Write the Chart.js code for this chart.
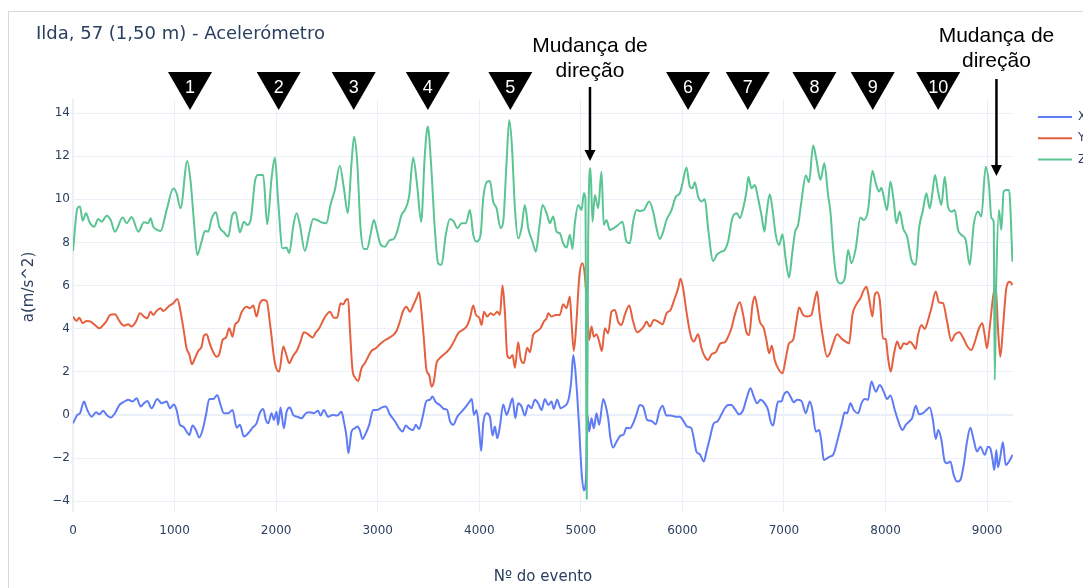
<!DOCTYPE html>
<html>
<head>
<meta charset="utf-8">
<title>Ilda, 57 (1,50 m) - Acelerómetro</title>
<script src="https://cdn.jsdelivr.net/npm/chart.js@4.4.1/dist/chart.umd.min.js"></script>
<style>
  html, body { margin: 0; padding: 0; background: #ffffff; overflow: hidden; }
  #frame { position: absolute; left: 8px; top: 11px; width: 1075px; height: 577px;
           border-top: 1px solid #d9d9d9; border-left: 1px solid #d9d9d9; }
  #wrap { position: absolute; left: 0; top: 0; width: 1083px; height: 588px; }
</style>
</head>
<body>
<div id="frame"></div>
<div id="wrap"><canvas id="chart" width="1083" height="588"></canvas></div>
<script>
// ---- texts ----
const chartTitle = 'Ilda, 57 (1,50 m) - Acelerómetro';
const xAxisTitle = 'Nº do evento';
const yAxisTitle = 'a(m/s^2)';
const seriesNames = ['X', 'Y', 'Z'];

// ---- axis ticks ----
const xTickValues = [0, 1000, 2000, 3000, 4000, 5000, 6000, 7000, 8000, 9000];
const yTickValues = [-4, -2, 0, 2, 4, 6, 8, 10, 12, 14];

// ---- step markers (event numbers) ----
const stepEvents = [1152, 2025, 2764, 3494, 4306, 6056, 6644, 7300, 7874, 8519];
const stepLabels = ['1', '2', '3', '4', '5', '6', '7', '8', '9', '10'];

// ---- direction-change notes ----
const turnEvents = [5090, 9092];
const turnLabel = ['Mudança de', 'direção'];

// ---- X acceleration ----
const eventsX = [
  0, 43, 69, 108, 141, 184, 226, 259, 298, 331,
  371, 413, 456, 495, 544, 587, 627, 666, 699, 731,
  774, 830, 872, 922, 954, 994, 1020, 1053, 1086, 1118,
  1145, 1177, 1210, 1243, 1276, 1309, 1342, 1381, 1420, 1453,
  1486, 1528, 1571, 1611, 1643, 1683, 1725, 1768, 1807,
  1840, 1873, 1899, 1922, 1955, 1978, 2004, 2020, 2043, 2076,
  2102, 2135, 2168, 2207, 2250, 2293, 2332, 2371, 2414, 2437,
  2470, 2512, 2555, 2601, 2644, 2667, 2693, 2712, 2742, 2775,
  2798, 2824, 2850, 2883, 2916, 2955, 2995, 3037, 3080, 3119,
  3168, 3211, 3244, 3277, 3309, 3349, 3375, 3408, 3441, 3480,
  3513, 3539, 3572, 3612, 3651, 3684,
  3711, 3744, 3783, 3826, 3868, 3901, 3927, 3947, 3973, 4000,
  4019, 4039, 4072, 4105, 4131, 4154, 4177, 4203, 4236, 4269,
  4295, 4328, 4354, 4383, 4416, 4449, 4482, 4514, 4547, 4580,
  4613, 4646, 4679, 4711, 4734, 4767, 4800, 4833, 4866, 4885,
  4905, 4925, 4944, 4964, 4984, 5007, 5030, 5049, 5066, 5082,
  5105, 5128, 5154, 5181, 5220, 5246, 5269, 5292, 5318, 5351,
  5390, 5423, 5449, 5482, 5515, 5548,
  5581, 5614, 5653, 5696, 5738, 5771, 5804, 5843, 5883, 5935,
  5975, 6014, 6047, 6089, 6112, 6138, 6171, 6211, 6237, 6270,
  6309, 6342, 6385, 6417, 6450, 6483, 6516, 6558, 6598, 6637,
  6670, 6703, 6736, 6768, 6811, 6844, 6867, 6893, 6919, 6942,
  6975, 6998, 7031, 7064, 7097, 7129, 7172, 7215, 7254, 7280,
  7313, 7346, 7369, 7392, 7424,
  7451, 7484, 7523, 7566, 7599, 7622, 7654, 7687, 7730, 7763,
  7795, 7828, 7861, 7904, 7943, 7982, 8015, 8048, 8091, 8133,
  8166, 8199, 8238, 8264, 8297, 8330, 8369, 8402, 8435, 8468,
  8494, 8520, 8550, 8583, 8606, 8638, 8671, 8704, 8737, 8770,
  8802, 8835, 8868, 8901, 8934, 8976, 9009, 9032, 9052, 9071,
  9091, 9107, 9130, 9156, 9183, 9216, 9250
];
const accX = [
  -0.39, 0, 0.08, 0.62, 0.23, -0.08, 0.12, 0.03, 0.19, 0,
  -0.12, 0.08, 0.46, 0.59, 0.7, 0.62, 0.77, 0.39, 0.54, 0.65,
  0.31, 0.74, 0.54, 0.62, 0.31, 0.49, 0.23, -0.46, -0.54, -0.77,
  -0.93, -0.49, -0.7, -1.05, -0.7, 0, 0.74, 0.74, 0.93, 0.46,
  0.08, 0.08, 0.23, -0.59, -0.46, -1.0, -0.85, -0.59, -0.39,
  0.1, 0.28, -0.23, -0.39, 0.08, -0.23, 0.15, -0.46, 0.34, -0.62,
  0.12, 0.34, 0, -0.08, -0.15, 0.08, 0.12, 0.08, 0.19, -0.03,
  0.23, -0.08, 0, -0.03, 0.15, -0.31, -1.0, -1.78, -0.77, -0.62,
  -0.54, -0.7, -1.11, -0.85, -0.46, 0.23, 0.23, 0.34, 0.39, 0.03,
  -0.28, -0.62, -0.77, -0.49, -0.62, -0.7, -0.46, -0.65, -0.12, 0.65,
  0.7, 0.85, 0.59, 0.46, 0.28, 0.23,
  -0.28, -0.46, -0.08, 0.15, 0.39, 0.59, 0.74, 0, 0.23, -0.77,
  -1.67, -0.39, 0.08, -0.08, -0.96, -0.54, -1.08, -0.54, 0.49, 0,
  0.31, 0.77, -0.15, 0.54, 0.39, -0.03, 0.46, 0.31, 0.7, 0.54,
  0.23, 0.74, 0.46, 0.62, 0.28, 0.7, 0.31, 0.39, 0.54, 0.85,
  1.55, 2.78, 2.16, 0.93, -0.62, -2.63, -3.5, -3.09, 0, -0.77,
  -0.15, -0.62, 0.08, -0.46, 0.74, 0.39, -0.15, -1.08, -1.51, -1.24,
  -0.96, -0.9, -0.59, -0.62, -0.39, 0.03,
  0.46, 0.39, -0.23, -0.28, -0.43, 0.15, 0.43, -0.03, -0.03, -0.08,
  -0.08, -0.31, -0.54, -0.62, -1.08, -1.7, -1.82, -2.16, -1.7, -1.08,
  -0.39, -0.31, 0.03, 0.31, 0.46, 0.46, 0.28, 0.03, 0.23, 0.85,
  1.24, 0.85, 0.54, 0.7, 0.54, 0.23, -0.28, -0.49, 0.15, 0.62,
  0.62, 0.93, 1.08, 0.85, 0.59, 0.7, 0.65, 0.08, 0.62, 0.23,
  -0.77, -0.7, -1.24, -2.09, -2.01,
  -1.93, -1.85, -1.24, -0.46, 0.12, 0.08, 0.54, 0.23, 0.08, 0.54,
  0.74, 0.7, 1.55, 1.08, 1.39, 1.08, 0.74, 0.9, 0.23, -0.39,
  -0.7, -0.46, -0.28, -0.12, 0.43, 0.03, 0.08, 0.23, 0.34, -0.28,
  -1.11, -0.7, -1.16, -2.16, -2.24, -2.16, -2.78, -3.09, -3.01, -2.32,
  -1.24, -0.59, -1.16, -1.7, -1.47, -1.85, -1.47, -1.55, -2.01, -2.55,
  -1.62, -2.43, -1.93, -1.27, -2.32, -2.16, -1.85
];

// ---- Y acceleration ----
const eventsY = [
  0, 36, 62, 95, 134, 174, 216, 259, 298, 331,
  364, 413, 456, 502, 544, 577, 620, 659, 699, 731,
  764, 790, 823, 863, 889, 938, 987, 1027, 1059, 1092,
  1118, 1145, 1171, 1200, 1233, 1266, 1289, 1315, 1348, 1381,
  1414, 1440, 1473, 1506, 1538, 1571, 1594, 1627, 1660, 1709,
  1742, 1775, 1807,
  1840, 1873, 1906, 1945, 1988, 2030, 2070, 2096, 2129, 2168,
  2207, 2240, 2273, 2316, 2358, 2391, 2424, 2457, 2490, 2529,
  2568, 2601, 2634, 2660, 2686, 2709, 2726, 2752, 2778, 2808,
  2840, 2873, 2906, 2939, 2981, 3021, 3060, 3103, 3146, 3185,
  3218, 3250, 3283, 3316, 3355, 3382, 3408, 3431, 3454, 3480,
  3507, 3530, 3553, 3579, 3612, 3644, 3677,
  3711, 3750, 3793, 3836, 3875, 3908, 3941, 3967, 4000, 4023,
  4046, 4078, 4111, 4144, 4177, 4203, 4229, 4252, 4275, 4301,
  4328, 4351, 4383, 4406, 4439, 4472, 4498, 4531, 4570, 4603,
  4636, 4662, 4679, 4711, 4754, 4793, 4826, 4859, 4892, 4908,
  4931, 4957, 4984, 5016, 5039, 5062, 5082, 5105, 5128, 5154,
  5181, 5207, 5236, 5269, 5302, 5335, 5367, 5400, 5433, 5476,
  5515, 5554,
  5581, 5620, 5647, 5679, 5719, 5761, 5804, 5843, 5883, 5925,
  5958, 5981, 6007, 6040, 6080, 6112, 6155, 6188, 6221, 6253,
  6286, 6329, 6375, 6417, 6450, 6483, 6516, 6565, 6598, 6631,
  6657, 6690, 6713, 6736, 6762, 6801, 6827, 6854, 6880, 6909,
  6942, 6985, 7018, 7050, 7090, 7123, 7149, 7188, 7228, 7270,
  7303, 7326, 7352, 7385, 7424,
  7451, 7484, 7523, 7566, 7608, 7641, 7674, 7713, 7753, 7779,
  7812, 7838, 7871, 7894, 7917, 7943, 7976, 8002, 8025, 8051,
  8081, 8114, 8146, 8179, 8212, 8238, 8271, 8297, 8320, 8353,
  8386, 8419, 8451, 8494, 8527, 8566, 8606, 8648, 8681, 8724,
  8763, 8802, 8845, 8878, 8920, 8953, 8976, 8999, 9025, 9058,
  9084, 9107, 9130, 9156, 9189, 9222, 9250
];
const accY = [
  4.56, 4.36, 4.51, 4.25, 4.36, 4.33, 4.17, 4.02, 4.17, 4.36,
  4.64, 4.67, 4.36, 4.14, 4.2, 4.1, 4.33, 4.71, 4.56, 4.48,
  4.79, 4.64, 4.82, 4.95, 4.82, 5.02, 5.18, 5.38, 4.79, 3.86,
  3.09, 2.81, 2.35, 2.63, 2.97, 3.17, 3.68, 3.74, 3.28, 2.91,
  2.7, 2.81, 3.48, 3.59, 4.02, 3.63, 4.17, 4.33, 4.76, 5.02,
  4.95, 5.07, 4.56,
  5.18, 5.33, 5.29, 4.02, 2.4, 2.01, 3.17, 2.86, 2.4, 2.75,
  3.01, 3.4, 3.83, 3.74, 3.59, 3.83, 4.02, 4.33, 4.61, 4.79,
  4.51, 4.51, 5.18, 5.13, 5.33, 5.38, 4.02, 2.09, 1.73, 1.58,
  2.16, 2.4, 2.7, 2.97, 3.09, 3.28, 3.43, 3.55, 3.68, 3.89,
  4.33, 4.82, 5.02, 4.79, 5.13, 5.41, 5.69, 4.79, 3.55, 2.09,
  1.85, 1.31, 1.55, 2.4, 2.63, 2.78, 2.91,
  3.09, 3.4, 3.79, 3.94, 4.1, 4.48, 5.07, 4.64, 4.51, 4.17,
  4.79, 4.56, 4.71, 4.64, 4.79, 4.64, 6.0, 4.79, 2.78, 2.63,
  2.78, 2.19, 3.37, 2.63, 2.4, 3.12, 2.91, 3.71, 3.89, 4.02,
  4.33, 4.48, 4.71, 4.56, 4.64, 4.64, 5.13, 4.95, 5.49, 4.33,
  2.97, 4.33, 6.37, 7.03, 6.49, 4.95, 3.48, 4.1, 3.63, 3.74,
  3.4, 2.97, 4.02, 3.79, 4.79, 4.87, 4.33, 4.17, 4.64, 5.07,
  4.33, 3.83,
  3.9, 4.1, 4.33, 4.1, 4.4, 4.33, 4.2, 4.71, 4.87, 5.41,
  5.87, 6.31, 5.87, 4.79, 3.71, 3.4, 3.74, 3.09, 2.7, 2.55,
  2.81, 2.91, 3.32, 3.37, 3.63, 4.02, 4.64, 5.22, 4.64, 3.83,
  3.71, 5.1, 5.49, 5.02, 4.33, 4.02, 3.48, 2.86, 3.21, 2.55,
  2.16, 1.93, 2.63, 3.32, 3.48, 4.36, 4.98, 4.64, 4.56, 4.64,
  5.33, 5.72, 4.64, 3.55, 2.7,
  2.86, 3.32, 3.74, 3.55, 3.4, 3.32, 4.64, 5.13, 5.41, 5.72,
  5.95, 5.41, 4.56, 5.56, 5.69, 5.33, 3.55, 3.52, 2.63, 2.01,
  2.78, 3.4, 3.06, 3.32, 3.28, 3.4, 3.25, 3.06, 3.71, 4.17,
  3.99, 4.4, 4.95, 5.72, 5.22, 5.18, 4.33, 3.43, 3.71, 3.83,
  3.59, 3.21, 3.01, 3.37, 4.02, 4.25, 3.71, 3.09, 4.02, 5.44,
  6.03, 4.02, 2.7, 4.02, 5.87, 6.18, 6.03
];

// ---- Z acceleration ----
const eventsZ = [
  0, 43, 69, 95, 128, 161, 207, 249, 282, 331,
  371, 413, 489, 528, 577, 643, 699, 741, 764, 790,
  830, 863, 922, 987, 1020, 1059, 1125, 1158, 1191, 1223,
  1266, 1299, 1332, 1364, 1407, 1440, 1486, 1528, 1568, 1601,
  1643, 1683, 1716, 1748, 1794, 1824,
  1873, 1912, 1955, 1988, 2020, 2063, 2102, 2129, 2168, 2201,
  2234, 2283, 2325, 2365, 2404, 2447, 2496, 2535, 2578, 2627,
  2667, 2706, 2742, 2768, 2798, 2831, 2864, 2896, 2929, 2962,
  2995, 3027, 3070, 3119, 3159, 3191, 3234, 3267, 3309, 3349,
  3388, 3428, 3464, 3493, 3526, 3562, 3595, 3628, 3670,
  3711, 3750, 3783, 3826, 3868, 3908, 3941, 3973, 4013, 4039,
  4078, 4105, 4137, 4170, 4210, 4236, 4269, 4295, 4321, 4351,
  4383, 4416, 4449, 4482, 4524, 4557, 4590, 4623, 4669, 4695,
  4728, 4761, 4793, 4826, 4859, 4892, 4918, 4941, 4974, 5007,
  5030, 5045, 5058, 5072, 5095, 5115, 5138, 5171, 5203, 5226,
  5253, 5285, 5325, 5367, 5410, 5449, 5482, 5515, 5548,
  5581, 5620, 5673, 5712, 5745, 5778, 5811, 5843, 5893, 5935,
  5975, 6001, 6040, 6073, 6099, 6122, 6155, 6188, 6221, 6253,
  6303, 6342, 6385, 6417, 6450, 6493, 6539, 6565, 6598, 6631,
  6650, 6680, 6713, 6745, 6778, 6808, 6827, 6860, 6886, 6919,
  6952, 6985, 7018, 7050, 7083, 7110, 7139, 7172, 7215, 7247,
  7287, 7320, 7359, 7398, 7434,
  7458, 7484, 7517, 7556, 7599, 7631, 7664, 7707, 7753, 7786,
  7828, 7871, 7904, 7936, 7959, 7982, 8015, 8048, 8081, 8107,
  8140, 8173, 8212, 8255, 8297, 8330, 8369, 8402, 8435, 8461,
  8487, 8517, 8550, 8583, 8615, 8648, 8681, 8714, 8747, 8789,
  8829, 8868, 8911, 8943, 8986, 9019, 9042, 9065, 9075, 9091,
  9117, 9140, 9163, 9189, 9216, 9250
];
const accZ = [
  7.6, 9.58, 9.66, 9.0, 9.35, 8.96, 8.73, 9.09, 8.96, 9.24,
  9.04, 8.5, 9.15, 8.89, 9.18, 8.5, 8.93, 8.89, 9.12, 8.73,
  8.58, 8.53, 9.5, 10.5, 10.28, 9.58, 11.78, 10.82, 8.96, 7.42,
  8.04, 8.53, 8.5, 9.09, 9.4, 8.73, 8.47, 8.27, 9.27, 9.4,
  8.47, 8.96, 8.81, 9.0, 10.9, 11.13,
  11.13, 8.84, 10.97, 11.93, 9.9, 7.73, 7.76, 7.5, 8.73, 9.35,
  8.81, 7.6, 8.42, 9.09, 9.04, 8.93, 8.89, 9.74, 10.43, 11.56,
  10.51, 9.35, 11.67, 12.9, 11.75, 8.66, 7.7, 7.7, 8.35, 9.04,
  8.5, 7.91, 7.8, 8.11, 8.16, 8.5, 9.27, 9.5, 10.12, 11.93,
  10.66, 8.96, 12.06, 13.37, 11.59, 8.66, 7.03, 6.96, 8.35,
  9.09, 8.96, 8.66, 8.89, 8.89, 9.5, 8.35, 8.04, 8.35, 10.05,
  10.82, 10.85, 9.9, 9.58, 8.66, 8.96, 11.75, 13.68, 12.52, 9.58,
  8.19, 8.66, 9.74, 8.66, 8.04, 7.57, 8.66, 9.74, 9.27, 8.89,
  9.2, 8.5, 8.42, 7.96, 7.76, 8.35, 7.7, 8.89, 9.74, 9.5,
  10.28, 10.05, -3.9, 8.0, 11.44, 8.96, 10.2, 9.58, 11.28, 8.81,
  9.04, 8.58, 8.66, 8.81, 8.96, 8.04, 7.96, 8.96, 9.5,
  9.46, 9.5, 9.9, 9.43, 8.66, 8.16, 8.5, 9.04, 9.5, 10.12,
  10.28, 10.74, 11.47, 10.59, 10.51, 10.79, 10.12, 9.9, 10.0, 8.66,
  7.14, 7.45, 7.57, 7.65, 8.04, 9.15, 9.35, 9.12, 9.58, 10.36,
  11.05, 10.51, 10.66, 10.05, 9.27, 8.5, 9.27, 10.23, 9.58, 8.35,
  7.88, 8.38, 7.19, 6.37, 7.57, 8.5, 8.81, 9.9, 11.1, 10.79,
  12.49, 11.82, 10.9, 11.67, 10.2,
  9.4, 7.73, 6.37, 6.1, 6.34, 7.65, 7.03, 7.73, 9.15, 9.04,
  9.5, 11.31, 10.74, 10.36, 10.54, 10.12, 9.5, 10.82, 9.9, 8.89,
  9.43, 8.66, 8.27, 7.19, 6.96, 8.66, 9.5, 10.28, 9.58, 10.28,
  11.13, 10.36, 9.74, 11.05, 9.66, 9.43, 9.5, 8.58, 8.35, 8.11,
  6.96, 8.81, 9.43, 9.2, 11.51, 10.66, 9.12, 8.96, 1.62, 6.34,
  9.5, 8.58, 10.36, 10.43, 10.43, 7.11
];

const seriesColors = ['#5f7cf4', '#e5603e', '#5ac493'];
const inkColor = '#2a3f5f';
const gridColor = '#ebf0f8';
const uiFont = '"DejaVu Sans"';

function toPoints(events, values) {
  const n = Math.min(events.length, values.length);
  const pts = [];
  for (let i = 0; i < n; i++) pts.push({ x: events[i], y: values[i] });
  return pts;
}

// Titles, legend, step triangles and direction-change arrows
const overlayPlugin = {
  id: 'overlay',
  afterDraw(chart) {
    const { ctx, chartArea, scales } = chart;
    const xs = scales.x;
    ctx.save();

    // chart title
    ctx.fillStyle = inkColor;
    ctx.font = '18px ' + uiFont;
    ctx.textAlign = 'left';
    ctx.textBaseline = 'alphabetic';
    ctx.fillText(chartTitle, 36, 39);

    // axis titles
    ctx.font = '15px ' + uiFont;
    ctx.textAlign = 'center';
    ctx.textBaseline = 'middle';
    ctx.fillText(xAxisTitle, (chartArea.left + chartArea.right) / 2, 577);
    ctx.save();
    ctx.translate(29, 287);
    ctx.rotate(-Math.PI / 2);
    ctx.fillText(yAxisTitle, 0, 0);
    ctx.restore();

    // legend
    chart.data.datasets.forEach((ds, i) => {
      const y = 117 + i * 21.3;
      ctx.strokeStyle = ds.borderColor;
      ctx.lineWidth = 2;
      ctx.beginPath();
      ctx.moveTo(1038, y);
      ctx.lineTo(1072, y);
      ctx.stroke();
      ctx.fillStyle = inkColor;
      ctx.font = '12px ' + uiFont;
      ctx.textAlign = 'left';
      ctx.textBaseline = 'middle';
      ctx.fillText(ds.label, 1078, y);
    });

    // step triangles
    stepEvents.forEach((ev, i) => {
      const px = xs.getPixelForValue(ev);
      ctx.fillStyle = '#000000';
      ctx.beginPath();
      ctx.moveTo(px - 22, 72);
      ctx.lineTo(px + 22, 72);
      ctx.lineTo(px, 110);
      ctx.closePath();
      ctx.fill();
      ctx.fillStyle = '#ffffff';
      ctx.font = '18px "Liberation Sans"';
      ctx.textAlign = 'center';
      ctx.textBaseline = 'middle';
      ctx.fillText(stepLabels[i], px, 88);
    });

    // direction-change arrows
    const turnLayout = [
      { base: 52, top: 87, tip: 161 },
      { base: 42, top: 79, tip: 176 }
    ];
    turnEvents.forEach((ev, i) => {
      const px = xs.getPixelForValue(ev);
      const L = turnLayout[i];
      ctx.fillStyle = '#000000';
      ctx.font = '21px "Liberation Sans"';
      ctx.textAlign = 'center';
      ctx.textBaseline = 'alphabetic';
      ctx.fillText(turnLabel[0], px, L.base);
      ctx.fillText(turnLabel[1], px, L.base + 25);
      ctx.strokeStyle = '#000000';
      ctx.lineWidth = 2.5;
      ctx.beginPath();
      ctx.moveTo(px, L.top);
      ctx.lineTo(px, L.tip - 9);
      ctx.stroke();
      ctx.beginPath();
      ctx.moveTo(px - 5.5, L.tip - 11);
      ctx.lineTo(px + 5.5, L.tip - 11);
      ctx.lineTo(px, L.tip);
      ctx.closePath();
      ctx.fill();
    });

    ctx.restore();
  }
};

function gridStyle(ctx) {
  return ctx.tick && ctx.tick.value === 0 ? 2 : 1;
}

function build() {
  const datasets = [
    { label: seriesNames[0], data: toPoints(eventsX, accX), borderColor: seriesColors[0], order: 2 },
    { label: seriesNames[1], data: toPoints(eventsY, accY), borderColor: seriesColors[1], order: 1 },
    { label: seriesNames[2], data: toPoints(eventsZ, accZ), borderColor: seriesColors[2], order: 0 }
  ].map(d => Object.assign(d, {
    borderWidth: 2,
    pointRadius: 0,
    fill: false,
    cubicInterpolationMode: 'monotone',
    borderJoinStyle: 'round'
  }));

  new Chart(document.getElementById('chart'), {
    type: 'line',
    data: { datasets },
    options: {
      responsive: false,
      animation: false,
      devicePixelRatio: 1,
      layout: { padding: { top: 99, right: 70, left: 0, bottom: 0 } },
      plugins: { legend: { display: false }, tooltip: { enabled: false }, title: { display: false } },
      scales: {
        x: {
          type: 'linear',
          min: 0,
          max: 9255,
          afterBuildTicks: s => { s.ticks = xTickValues.map(v => ({ value: v })); },
          afterFit: s => { s.height = 76; },
          border: { display: false },
          grid: { color: gridColor, lineWidth: gridStyle, drawTicks: false },
          ticks: {
            autoSkip: false, maxRotation: 0, padding: 12, color: inkColor,
            font: { family: uiFont, size: 12 },
            callback: v => String(v)
          }
        },
        y: {
          type: 'linear',
          min: -4.5,
          max: 14.65,
          afterBuildTicks: s => { s.ticks = yTickValues.map(v => ({ value: v })); },
          afterFit: s => { s.width = 73; },
          border: { display: false },
          grid: { color: gridColor, lineWidth: gridStyle, drawTicks: false },
          ticks: {
            padding: 3, color: inkColor,
            font: { family: uiFont, size: 12 },
            callback: v => (v < 0 ? '\u2212' + Math.abs(v) : String(v))
          }
        }
      }
    },
    plugins: [overlayPlugin]
  });
}

const fontsToLoad = ['18px "DejaVu Sans"', '15px "DejaVu Sans"', '12px "DejaVu Sans"', '21px "Liberation Sans"'];
Promise.all(fontsToLoad.map(f => document.fonts.load(f))).then(build, build);
</script>
</body>
</html>
